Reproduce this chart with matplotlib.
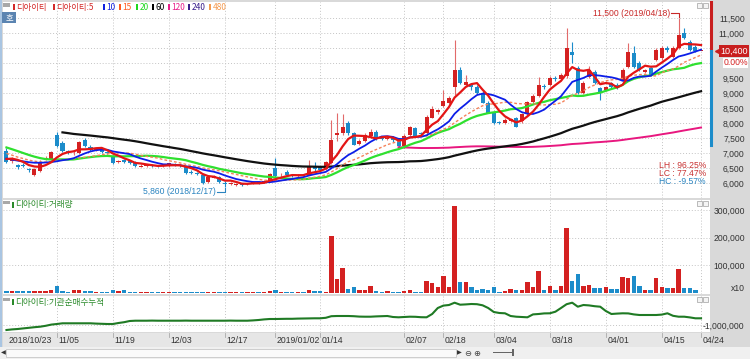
import numpy as np
import pandas as pd
import matplotlib
matplotlib.use('Agg')
import matplotlib.pyplot as plt
from matplotlib import font_manager
from matplotlib.patches import Rectangle

plt.rcParams['font.family'] = ['Noto Sans CJK KR', 'DejaVu Sans']

W, H = 750, 359

# trading days shown (KRX holidays skipped)
holidays = ['2018-12-25', '2018-12-31', '2019-01-01', '2019-02-04',
            '2019-02-05', '2019-02-06', '2019-03-01']
dates = pd.bdate_range('2018-10-23', '2019-04-24', freq='C', holidays=holidays)

# closes before the visible window (only needed for the moving averages)
closes_before = [8500, 8600, 8450, 8300, 8200, 8350, 8250, 8150, 8200, 8300, 8200, 8100,
                 8300, 8500, 8700, 8600, 8450, 8550, 8400, 8500, 8350, 8450, 8600, 8400,
                 8300, 8200, 8100, 8000, 8050, 7900, 7950, 7800, 7850, 7700, 7600, 7650,
                 7500, 7300, 7200, 7000, 7100, 6900, 6800, 6700, 6650,
                 6700, 6750, 6900, 6950]

opens = [7080, 6720, 6600, 6600, 6460, 6260, 6400, 6790, 6780, 7600,
         7320, 7050, 6950, 7010, 7430, 7190, 7080, 7120, 7030, 6880,
         6690, 6760, 6720, 6700, 6540, 6560, 6590, 6570, 6550, 6560,
         6640, 6600, 6540, 6360, 6320, 6270, 6020, 6180, 6200, 6010,
         5950, 5940, 5990, 5950, 5980, 6030, 6020, 6090, 6500, 6250,
         6380, 6270, 6220, 6260, 6270, 6550, 6520, 6450, 6650, 7600,
         7650, 7990, 7650, 7300, 7400, 7550, 7700, 7500, 7460, 7500,
         7450, 7220, 7600, 7830, 7650, 7650, 8180, 8350, 8550, 8680,
         9200, 9770, 9280, 9250, 9200, 9000, 8670, 8330, 8020, 8000,
         8050, 8170, 8050, 8300, 8700, 8900, 9230, 9270, 9500, 9480,
         9550, 10370, 9830, 9000, 9530, 9700, 9170, 9100, 9330, 9270,
         9430, 9870, 10330, 10000, 9700, 9830, 10100, 10170, 10500, 10200,
         10500, 11000, 10700, 10530, 10400]
highs = [7150, 6850, 6640, 6650, 6500, 6500, 6760, 6900, 7080, 7700,
         7400, 7100, 7050, 7400, 7500, 7250, 7180, 7160, 7060, 6920,
         6780, 6790, 6760, 6730, 6620, 6610, 6630, 6600, 6610, 6680,
         6670, 6640, 6560, 6420, 6360, 6300, 6230, 6260, 6230, 6050,
         6030, 6000, 6010, 6010, 6050, 6060, 6090, 6320, 6830, 6320,
         6420, 6300, 6300, 6300, 6750, 6700, 6560, 6720, 8100, 8330,
         8300, 8050, 7700, 7450, 7650, 7800, 7750, 7580, 7550, 7550,
         7500, 7620, 7900, 7870, 7700, 8250, 8560, 8470, 9100, 8900,
         10770, 9850, 9600, 9320, 9250, 9050, 8720, 8380, 8080, 8150,
         8180, 8200, 8330, 8730, 8950, 9530, 9300, 9550, 9560, 9650,
         11170, 10700, 9900, 9400, 9900, 9750, 9200, 9230, 9370, 9330,
         9830, 10670, 10570, 10050, 9800, 9870, 10500, 10570, 10570, 10570,
         11500, 11170, 10770, 10600, 10400]
lows = [6650, 6680, 6480, 6520, 6380, 6220, 6380, 6760, 6760, 7200,
        7020, 6950, 6930, 6980, 7200, 7080, 7050, 7000, 6960, 6640,
        6650, 6680, 6640, 6530, 6520, 6530, 6540, 6520, 6530, 6540,
        6560, 6520, 6300, 6300, 6250, 5980, 5990, 6150, 6000, 5860,
        5920, 5900, 5900, 5920, 5960, 5980, 6000, 6080, 6200, 6200,
        6250, 6200, 6200, 6220, 6250, 6380, 6400, 6430, 6620, 7400,
        7600, 7600, 7250, 7250, 7350, 7500, 7420, 7430, 7420, 7380,
        7200, 7150, 7580, 7550, 7580, 7620, 8150, 8300, 8520, 8640,
        8930, 9300, 9230, 9100, 8980, 8650, 8320, 7980, 7950, 7950,
        8020, 7850, 8000, 8250, 8650, 8850, 9120, 9230, 9400, 9450,
        9500, 10000, 8980, 8950, 9500, 9300, 8770, 9080, 9150, 9130,
        9400, 9830, 9830, 9730, 9650, 9570, 10050, 10100, 10380, 10170,
        10470, 10800, 10400, 10350, 10400]
closes = [6700, 6760, 6540, 6560, 6420, 6470, 6700, 6830, 7040, 7220,
          7050, 7000, 6970, 7370, 7220, 7110, 7130, 7020, 6990, 6670,
          6740, 6700, 6680, 6550, 6580, 6590, 6570, 6560, 6580, 6650,
          6600, 6560, 6330, 6330, 6290, 6000, 6200, 6230, 6020, 5950,
          6000, 5980, 5940, 5990, 6030, 6010, 6060, 6300, 6230, 6280,
          6270, 6240, 6280, 6240, 6580, 6450, 6430, 6700, 7430, 7650,
          7880, 7660, 7280, 7400, 7600, 7700, 7450, 7470, 7500, 7420,
          7230, 7580, 7850, 7580, 7620, 8200, 8480, 8430, 8730, 8830,
          9770, 9330, 9350, 9200, 9000, 8670, 8340, 8000, 8000, 8100,
          8120, 7880, 8300, 8700, 8900, 9270, 9200, 9500, 9450, 9600,
          10500, 10270, 9000, 9330, 9770, 9330, 9030, 9200, 9200, 9170,
          9770, 10370, 9870, 9770, 9770, 9600, 10430, 10500, 10430, 10500,
          10930, 10830, 10430, 10400, 10400]

# volume as displayed (axis unit x10)
volumes = [8000, 6000, 7000, 7000, 6000, 6000, 7000, 6000, 12000, 24000,
           6000, 4000, 10000, 12000, 8500, 6000, 5000, 2500, 3500, 12000,
           6000, 10000, 5000, 5000, 3500, 3000, 3000, 2500, 3000, 3500,
           2500, 2000, 5000, 4000, 3000, 3500, 4000, 3000, 3000, 2000,
           3000, 3500, 3000, 3000, 3500, 3000, 4000, 7000, 10000, 3000,
           4000, 2500, 3500, 3500, 12000, 6000, 6000, 3500, 206000, 52000,
           92000, 16000, 21000, 12000, 12000, 24000, 6000, 4000, 7000, 4000,
           5000, 8000, 10000, 4000, 4000, 45000, 35000, 20000, 60000, 20000,
           315000, 40000, 40000, 20000, 10000, 13000, 10000, 20000, 5000, 6000,
           15000, 12000, 12000, 40000, 20000, 80000, 12000, 27000, 12000, 25000,
           235000, 45000, 70000, 25000, 30000, 18000, 17000, 22000, 15000, 15000,
           58000, 55000, 60000, 25000, 12000, 12000, 55000, 20000, 17000, 17000,
           88000, 18000, 18000, 10000, 0]

# institutional cumulative net buying, thousands of shares
inst_cum_k = [-1250, -1220, -1200, -1170, -1140, -1110, -1085, -1040, -980, -950,
              -915, -915, -915, -915, -915, -915, -930, -940, -950, -950,
              -900, -860, -800, -785, -785, -785, -780, -785, -785, -785,
              -785, -785, -780, -785, -785, -785, -785, -785, -785, -785,
              -780, -785, -785, -785, -770, -750, -720, -700, -700, -695,
              -690, -690, -680, -675, -670, -665, -665, -640, -560, -550,
              -550, -550, -560, -580, -585, -585, -570, -560, -550, -600,
              -615, -600, -585, -590, -610, -615, -450, -150, -30, 0,
              115, 15, 30, 50, 40, -15, -150, -350, -400, -415,
              -550, -585, -600, -615, -470, -450, -420, -415, -335, -150,
              40, 115, -85, 0, -20, -60, -85, -300, -450, -430,
              -415, -420, -470, -500, -500, -500, -500, -480, -415, -540,
              -585, -585, -620, -665, -665]

tick_dates = ['2018-10-23', '2018-11-05', '2018-11-19', '2018-12-03', '2018-12-17',
              '2019-01-02', '2019-01-14', '2019-02-07', '2019-02-18', '2019-03-04',
              '2019-03-18', '2019-04-01', '2019-04-15', '2019-04-24']
tick_labels = ['2018/10/23', '11/05', '11/19', '12/03', '12/17', '2019/01/02', '01/14',
               '02/07', '02/18', '03/04', '03/18', '04/01', '04/15', '04/24']

range_bar_low = 7270

UP, DOWN = '#d42121', '#1c8cca'
UP_WICK, DOWN_WICK = '#e26a6a', '#1c8cca'
GRID = '#c4c4c4'

# narrow face for the numbers, like the terminal's bitmap font
installed = {f.name for f in font_manager.fontManager.ttflist}
if 'Liberation Sans Narrow' in installed:
    NUM, NS = 'Liberation Sans Narrow', 7.0
else:
    NUM, NS = 'Liberation Sans', 6.2

x = np.arange(len(dates))
o, h, l, c = map(np.array, (opens, highs, lows, closes))
up = c >= o
all_close = pd.Series(closes_before + closes, dtype=float)
n_before = len(closes_before)


def ma(n):
    return all_close.rolling(n).mean().iloc[n_before:].values


tick_pos = [dates.get_loc(pd.Timestamp(d)) for d in tick_dates]


def box(x0, y0, x1, y1):
    return [x0 / W, 1 - y1 / H, (x1 - x0) / W, (y1 - y0) / H]


def fig_rect(x0, y0, x1, y1, **kw):
    fig.add_artist(Rectangle((x0 / W, 1 - y1 / H), (x1 - x0) / W, (y1 - y0) / H,
                             transform=fig.transFigure, **kw))


def fig_text(px, py, s, **kw):
    fig.text(px / W, 1 - py / H, s, **kw)


def right_labels(ax, ticks, labels):
    ax.yaxis.tick_right()
    ax.set_yticks(ticks)
    ax.set_yticklabels(labels, fontsize=NS, family=NUM, color='#333333')
    ax.tick_params(axis='y', labelright=True, pad=25)
    for t in ax.get_yticklabels():
        t.set_ha('right')


fig = plt.figure(figsize=(7.5, 3.59), dpi=100)
fig.patch.set_facecolor('#d9d9d9')

ax_p = fig.add_axes(box(3, 2, 710, 198))
ax_v = fig.add_axes(box(3, 200, 710, 294), sharex=ax_p)
ax_i = fig.add_axes(box(3, 296, 710, 332), sharex=ax_p)
ax_x = fig.add_axes(box(3, 333, 710, 347), sharex=ax_p)

for ax in (ax_p, ax_v, ax_i, ax_x):
    for s in ax.spines.values():
        s.set_visible(False)
    ax.tick_params(length=0, labelbottom=False, labelleft=False)
    ax.set_axisbelow(True)
ax_x.set_facecolor('#e6e6e6')
ax_p.set_xlim(-0.62, 125.6)

# vertical grid lines at the date ticks
for ax in (ax_p, ax_v, ax_i):
    for p in tick_pos[1:]:
        ax.axvline(p, color=GRID, lw=0.7, ls=(0, (1, 2)), zorder=0)

# ---- price panel
last = c[-1]
ax_p.set_ylim(5500, 12033)
price_ticks = np.arange(6000, 11501, 500)
for v in price_ticks:
    ax_p.axhline(v, color=GRID, lw=0.7, ls=(0, (1, 2)), zorder=0)
# labels next to the current price box are covered by it
right_labels(ax_p, price_ticks,
             ['' if abs(v - last) < 450 else f'{v:,}' for v in price_ticks])

ax_p.vlines(x, l, h, colors=np.where(up, UP_WICK, DOWN_WICK), lw=0.8, zorder=2)
body = np.maximum(np.abs(c - o), 18)
ax_p.bar(x, body, bottom=np.minimum(o, c), width=0.72,
         color=np.where(up, UP, DOWN), edgecolor='none', zorder=3)

ax_p.plot(x, ma(120), color='#e8177f', lw=1.4, zorder=4)
ax_p.plot(x, ma(60), color='#111111', lw=1.6, zorder=4)
ax_p.plot(x, ma(20), color='#2fe02f', lw=1.6, zorder=4)
ax_p.plot(x, ma(15), color='#f5825a', lw=1.0, ls=(0, (2, 1.5)), zorder=4)
ax_p.plot(x, ma(10), color='#0c1ee8', lw=1.3, zorder=5)
ax_p.plot(x, ma(5), color='#e31515', lw=1.6, zorder=6)

# high / low annotations
hi_i, lo_i = int(np.argmax(h)), int(np.argmin(l))
hi, lo = h[hi_i], l[lo_i]
ax_p.plot([hi_i - 1.3, hi_i, hi_i], [hi + 155, hi + 155, hi + 20], color='#c82828', lw=0.8)
ax_p.text(hi_i - 1.5, hi + 155, f'{hi:,} ({dates[hi_i]:%Y/%m/%d})', color='#c82828',
          fontsize=NS, family=NUM, ha='right', va='center')
ax_p.plot([lo_i - 1.4, lo_i, lo_i], [lo - 160, lo - 160, lo - 20], color='#2a84c0', lw=0.8)
ax_p.text(lo_i - 1.6, lo - 160, f'{lo:,} ({dates[lo_i]:%Y/%m/%d})', color='#2a84c0',
          fontsize=NS, family=NUM, ha='right', va='center')

# range stats
ax_p.text(0.994, 0.168, f'LH : {(hi / lo - 1) * 100:.2f}%', transform=ax_p.transAxes,
          ha='right', va='center', fontsize=NS, family=NUM, color='#c83232')
ax_p.text(0.994, 0.127, f'LC : {(last / lo - 1) * 100:.2f}%', transform=ax_p.transAxes,
          ha='right', va='center', fontsize=NS, family=NUM, color='#c83232')
ax_p.text(0.994, 0.086, f'HC : {(last / hi - 1) * 100:.2f}%', transform=ax_p.transAxes,
          ha='right', va='center', fontsize=NS, family=NUM, color='#2a84c0')

# range bar at the right edge and the current price box
ytr = ax_p.get_yaxis_transform()
ax_p.plot([1.001, 1.001], [last, 12033], transform=ytr, color='#c81e1e', lw=2.2, clip_on=False)
ax_p.plot([1.001, 1.001], [range_bar_low, last], transform=ytr, color='#1c8cca', lw=2.2, clip_on=False)
ax_p.plot([1.012], [last], marker='<', ms=5, color='#c81e1e', transform=ytr, clip_on=False)
ax_p.text(1.0535, last, f'{last:,}', transform=ytr, ha='right', va='center', fontsize=NS + 0.3,
          family=NUM, color='white', zorder=10,
          bbox=dict(boxstyle='square,pad=0.12', fc='#c81e1e', ec='none'))
ax_p.annotate(f'{(c[-1] / c[-2] - 1) * 100:.2f}%', xy=(1.0535, last), xycoords=ytr,
              xytext=(0, -8.5), textcoords='offset points', ha='right', va='center',
              fontsize=NS, family=NUM, color='#d42121', zorder=9,
              bbox=dict(boxstyle='square,pad=0.05', fc='white', ec='none'))

# ---- volume panel
ax_v.set_ylim(-3600, 336100)
vol_ticks = [100000, 200000, 300000]
for v in vol_ticks:
    ax_v.axhline(v, color=GRID, lw=0.7, ls=(0, (1, 2)), zorder=0)
ax_v.bar(x, volumes, width=0.78, color=np.where(up, UP, DOWN), zorder=3)
right_labels(ax_v, vol_ticks, [f'{v:,}' for v in vol_ticks])
ax_v.text(1.0495, 0.06, 'x10', transform=ax_v.transAxes, ha='right', va='center',
          fontsize=NS, family=NUM, color='#333333')

# ---- institutional cumulative panel
inst = np.array(inst_cum_k) * 1000
ax_i.set_ylim(-1350000, 450000)
ax_i.axhline(-1000000, color=GRID, lw=0.7, ls=(0, (1, 2)), zorder=0)
ax_i.plot(x, inst, color='#1f7a24', lw=1.5)
right_labels(ax_i, [-1000000], ['-1,000,000'])

# ---- date strip
ax_x.set_ylim(0, 1)
for p, lab in zip(tick_pos, tick_labels):
    ax_x.text(p + 0.3, 0.45, lab, ha='left', va='center', fontsize=NS, family=NUM, color='#333333')
    if p > 0:
        ax_x.plot([p, p], [0.75, 1.0], color='#aaaaaa', lw=0.6)

# ---- legend and panel captions
fig_rect(3, 3, 10, 7, fc='#a8a8a8', ec='none')
fig_rect(2, 12, 16, 23, fc='#5b84b1', ec='none')
fig_text(9, 17.5, '호', ha='center', va='center', fontsize=6, color='white')
legend_items = [(13, '디아이티', '#d42a2a'), (53, '디아이티:5', '#d42a2a'), (103, '10', '#1020e0'),
                (119, '15', '#ff5a1f'), (136, '20', '#1ed81e'), (152, '60', '#000000'),
                (168, '120', '#e8208a'), (188, '240', '#3a1f8c'), (209, '480', '#f59a4f')]
for px, lab, col in legend_items:
    fig_rect(px, 4, px + 2, 10, fc=col, ec='none')
    fig_text(px + 3.5, 7.5, lab, ha='left', va='center', fontsize=6, color=col)

for py, lab in ((205, '디아이티:거래량'), (302, '디아이티:기관순매수누적')):
    fig_rect(3, py - 4, 10, py - 1, fc='#a8a8a8', ec='none')
    fig_rect(12, py - 3, 14, py + 3, fc='#2a8a2a', ec='none')
    fig_text(15.5, py, lab, ha='left', va='center', fontsize=6.2, color='#2a8a2a')

for py in (3, 201, 297):
    fig_rect(697, py, 702, py + 5, fc='#f4f4f4', ec='#a0a0a0', lw=0.5)
    fig_rect(703, py, 708, py + 5, fc='#f4f4f4', ec='#a0a0a0', lw=0.5)

# left border and scroll bar
fig_rect(0, 0, 2, 347, fc='#a9c5e2', ec='none')
fig_rect(0, 347, 750, 359, fc='#f0f0f0', ec='none')
fig_rect(6, 349, 456, 357, fc='#fafafa', ec='#bdbdbd', lw=0.5)
fig_text(3, 353, '◀', ha='center', va='center', fontsize=4.5, color='#333333', family='DejaVu Sans')
fig_text(459, 353, '▶', ha='center', va='center', fontsize=4.5, color='#333333', family='DejaVu Sans')
fig_text(468, 353, '⊖', ha='center', va='center', fontsize=6, color='#444444', family='DejaVu Sans')
fig_text(477, 353, '⊕', ha='center', va='center', fontsize=6, color='#444444', family='DejaVu Sans')
fig_rect(493, 352, 512, 353, fc='#666666', ec='none')
fig_rect(512, 349, 514, 356, fc='#666666', ec='none')

fig.savefig('out.png', dpi=100)
